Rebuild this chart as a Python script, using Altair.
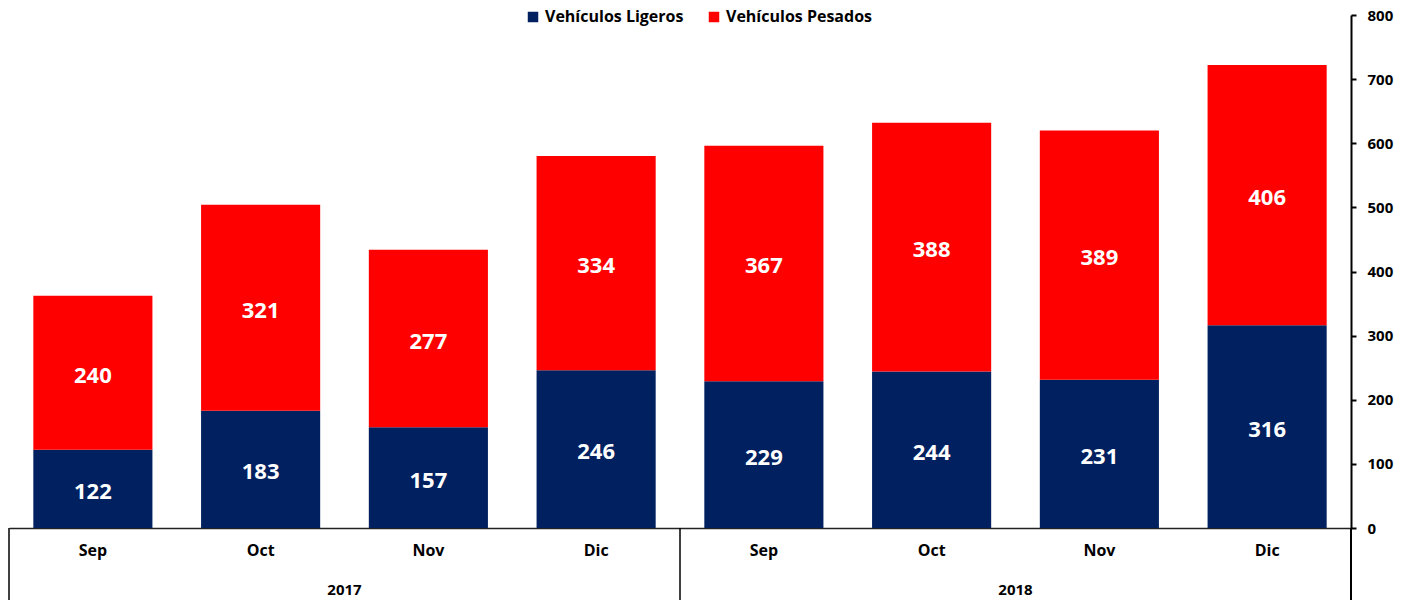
import altair as alt
import pandas as pd

years = ["2017", "2017", "2017", "2017", "2018", "2018", "2018", "2018"]
months = ["Sep", "Oct", "Nov", "Dic", "Sep", "Oct", "Nov", "Dic"]
ligeros = [122, 183, 157, 246, 229, 244, 231, 316]
pesados = [240, 321, 277, 334, 367, 388, 389, 406]
series = ["Vehículos Ligeros", "Vehículos Pesados"]
colors = ["#002060", "#FF0000"]
year_labels = ["2017", "2018"]

FONT = "Open Sans"
W, H = 1342, 513

keys = [f"{y}-{m}" for y, m in zip(years, months)]
rows = []
for k, l, p in zip(keys, ligeros, pesados):
    rows.append({"key": k, "serie": series[0], "value": l, "ord": 0})
    rows.append({"key": k, "serie": series[1], "value": p, "ord": 1})
df = pd.DataFrame(rows)

xscale = alt.Scale(domain=keys, paddingInner=0, paddingOuter=0)
xaxis = alt.Axis(
    title=None, ticks=False, domain=True, domainColor="#222222", domainWidth=1.5,
    labelExpr="split(datum.label, '-')[1]", labelAngle=0, labelFont=FONT,
    labelFontWeight="bold", labelFontSize=16, labelColor="black", labelPadding=14,
)
yscale = alt.Scale(domain=[0, 800], nice=False)
yaxis = alt.Axis(
    title=None, orient="right", values=list(range(0, 801, 100)), grid=False,
    domainColor="black", domainWidth=2, tickColor="black", tickWidth=2, tickSize=5,
    labelFont=FONT, labelFontWeight="bold", labelFontSize=15, labelColor="black",
    labelPadding=11,
)

base = alt.Chart(df)

bars = base.mark_bar(width={"band": 0.71}).encode(
    x=alt.X("key:N", scale=xscale, axis=xaxis, sort=keys),
    y=alt.Y("value:Q", stack="zero", scale=yscale, axis=yaxis),
    color=alt.Color(
        "serie:N", scale=alt.Scale(domain=series, range=colors),
        legend=alt.Legend(
            title=None, orient="none", legendX=516, legendY=-6, direction="horizontal",
            symbolType="square", symbolSize=110, symbolStrokeWidth=0,
            labelFont=FONT, labelFontWeight="bold", labelFontSize=16, labelColor="black",
            columnPadding=22, symbolOpacity=1,
        ),
    ),
    order=alt.Order("ord:Q"),
)

labels = base.transform_stack(
    stack="value", groupby=["key"], as_=["v0", "v1"], sort=[alt.SortField("ord")]
).transform_calculate(mid="(datum.v0 + datum.v1) / 2").mark_text(
    color="white", font=FONT, fontWeight="bold", fontSize=22, dy=3
).encode(
    x=alt.X("key:N", scale=xscale, sort=keys),
    y=alt.Y("mid:Q", scale=yscale),
    text="value:Q",
)

ydf = pd.DataFrame({"year": year_labels, "key": [f"{y}-Nov" for y in year_labels]})
year_text = alt.Chart(ydf).mark_text(
    font=FONT, fontWeight="bold", fontSize=15, color="black", baseline="middle"
).encode(
    x=alt.X("key:N", scale=xscale, sort=keys, bandPosition=0),
    y=alt.value(H + 62),
    text="year:N",
)

left_df = pd.DataFrame({"key": [keys[0], keys[4]]})
right_df = pd.DataFrame({"key": [keys[-1]]})
rules_left = alt.Chart(left_df).mark_rule(color="black", strokeWidth=1.5).encode(
    x=alt.X("key:N", scale=xscale, sort=keys, bandPosition=0),
    y=alt.value(H), y2=alt.value(H + 90),
)
rules_right = alt.Chart(right_df).mark_rule(color="black", strokeWidth=2).encode(
    x=alt.X("key:N", scale=xscale, sort=keys, bandPosition=1),
    y=alt.value(H), y2=alt.value(H + 90),
)

chart = alt.layer(bars, labels, year_text, rules_left, rules_right).properties(
    width=W, height=H,
    background="white",
    autosize=alt.AutoSizeParams(type="none"),
    padding={"left": 1, "top": 7, "right": 54, "bottom": 80},
).configure_view(stroke=None)

chart.save("out.html", embed_options={"renderer": "svg", "actions": False})
